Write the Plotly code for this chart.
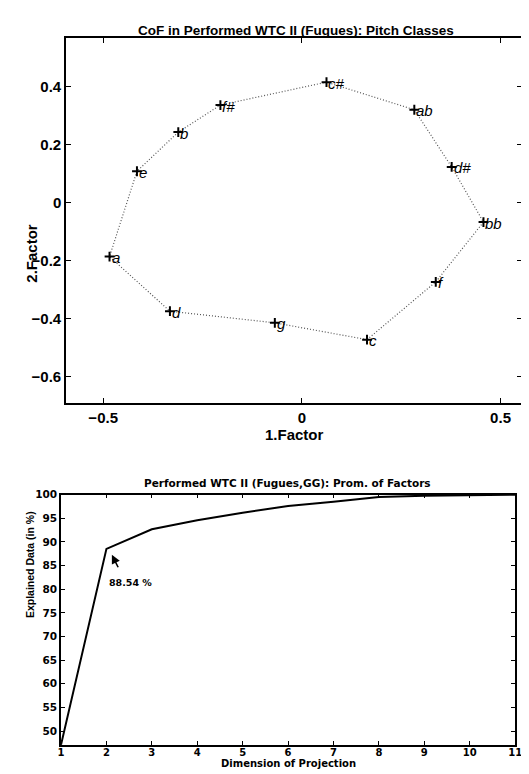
import plotly.graph_objects as go

# ---- Top chart data: pitch classes in circle-of-fifths order ----
pitch_labels = ["c", "g", "d", "a", "e", "b", "f#", "c#", "ab", "d#", "bb", "f"]
factor1 = [0.164, -0.068, -0.332, -0.484, -0.415, -0.311, -0.205, 0.062, 0.283, 0.377, 0.457, 0.337]
factor2 = [-0.472, -0.414, -0.374, -0.186, 0.108, 0.243, 0.336, 0.415, 0.320, 0.123, -0.067, -0.273]

# ---- Bottom chart data ----
dimensions = [1, 2, 3, 4, 5, 6, 7, 8, 9, 10, 11]
explained = [47.1, 88.54, 92.7, 94.6, 96.2, 97.6, 98.5, 99.5, 99.8, 99.95, 100.0]

OFF = 8  # default page body margin
W, H = 529 - OFF, 774 - OFF
FONT = "Liberation Sans"

def px_x(p):
    return (p - OFF) / W

def px_y(p):
    return 1 - (p - OFF) / H

fig = go.Figure()

# closed polygon (dotted)
fig.add_trace(go.Scatter(
    x=factor1 + factor1[:1], y=factor2 + factor2[:1],
    mode="lines", line=dict(color="#555555", width=1.2, dash="1px,2px"),
    xaxis="x", yaxis="y", showlegend=False, hoverinfo="skip"))
fig.add_trace(go.Scatter(
    x=factor1, y=factor2, mode="markers",
    marker=dict(symbol="cross-thin", size=7, line=dict(color="black", width=2)),
    xaxis="x", yaxis="y", showlegend=False))

annotations = []
for lx, ly, lab in zip(factor1, factor2, pitch_labels):
    annotations.append(dict(
        x=lx, y=ly, xref="x", yref="y", text=lab, showarrow=False,
        xanchor="left", yanchor="middle", xshift=0, yshift=-1,
        font=dict(family=FONT, size=15, color="black", style="italic")))

# bottom line
fig.add_trace(go.Scatter(
    x=dimensions, y=explained, mode="lines",
    line=dict(color="black", width=2),
    xaxis="x2", yaxis="y2", showlegend=False, cliponaxis=True))

# arrow + value label
annotations.append(dict(
    x=2.12, y=87.3, xref="x2", yref="y2", ax=7, ay=14, axref="pixel", ayref="pixel",
    text="", showarrow=True, arrowhead=2, arrowsize=1.1, arrowwidth=1.6, arrowcolor="black"))
annotations.append(dict(
    x=2.52, y=81.5, xref="x2", yref="y2", text=f"{explained[1]:.2f} %", showarrow=False,
    xanchor="center", yanchor="middle",
    font=dict(family="DejaVu Sans", size=9.5, color="black", weight="bold")))

# titles and axis labels
annotations += [
    dict(x=px_x(299), y=px_y(15), xref="paper", yref="paper", showarrow=False,
         text="CoF in Performed WTC II (Fugues): Pitch Classes",
         font=dict(family=FONT, size=13.5, color="black", weight="bold")),
    dict(x=px_x(297), y=px_y(432), xref="paper", yref="paper", showarrow=False,
         text="1.Factor", font=dict(family=FONT, size=15, color="black", weight="bold")),
    dict(x=px_x(18.5), y=px_y(217), xref="paper", yref="paper", showarrow=False,
         text="2.Factor", textangle=-90,
         font=dict(family=FONT, size=15, color="black", weight="bold")),
    dict(x=px_x(290), y=px_y(481), xref="paper", yref="paper", showarrow=False,
         text="Performed WTC II (Fugues,GG): Prom. of Factors",
         font=dict(family="DejaVu Sans", size=10.5, color="black", weight="bold")),
    dict(x=px_x(291), y=px_y(770.5), xref="paper", yref="paper", showarrow=False,
         text="Dimension of Projection",
         font=dict(family="DejaVu Sans", size=10, color="black", weight="bold")),
    dict(x=px_x(18.6), y=px_y(619), xref="paper", yref="paper", showarrow=False,
         text="Explained Data (in %)", textangle=-90,
         font=dict(family=FONT, size=10.5, color="black", weight="bold")),
]

top_tick = dict(family=FONT, size=15, color="black", weight="bold")
bot_tick = dict(family="DejaVu Sans", size=10.5, color="black", weight="bold")
botx_tick = dict(family="DejaVu Sans", size=10, color="black", weight="bold")

fig.update_layout(
    width=W, height=H,
    margin=dict(l=0, r=0, t=0, b=0),
    paper_bgcolor="white", plot_bgcolor="white",
    showlegend=False,
    annotations=annotations,
    xaxis=dict(domain=[px_x(64.3), 1.0], range=[-0.593, 0.554],
               tickvals=[-0.5, 0, 0.5], ticks="inside", ticklen=5, tickwidth=1,
               tickcolor="black", showline=True, linecolor="black", linewidth=2,
               mirror="ticks", showgrid=False, zeroline=False, tickfont=top_tick,
               anchor="y"),
    yaxis=dict(domain=[px_y(400.3), px_y(32.5)], range=[-0.691, 0.566],
               tickvals=[-0.6, -0.4, -0.2, 0, 0.2, 0.4], ticks="inside", ticklen=5,
               tickwidth=1, tickcolor="black", showline=True, linecolor="black",
               linewidth=2, mirror="ticks", showgrid=False, zeroline=False,
               tickfont=top_tick, anchor="x"),
    xaxis2=dict(domain=[px_x(59), px_x(522)], range=[1, 11],
                tickvals=dimensions, ticks="inside", ticklen=4, tickwidth=1,
                tickcolor="black", showline=True, linecolor="black", linewidth=1.5,
                mirror="ticks", showgrid=False, zeroline=False, tickfont=botx_tick,
                ticklabelstandoff=-3, anchor="y2"),
    yaxis2=dict(domain=[px_y(745), px_y(492.5)], range=[47, 100],
                tickvals=[50, 55, 60, 65, 70, 75, 80, 85, 90, 95, 100], ticks="inside",
                ticklen=4, tickwidth=1, tickcolor="black", showline=True,
                linecolor="black", linewidth=1.5, mirror="ticks", showgrid=False,
                zeroline=False, tickfont=bot_tick, anchor="x2"),
)

fig.write_html("out.html")
